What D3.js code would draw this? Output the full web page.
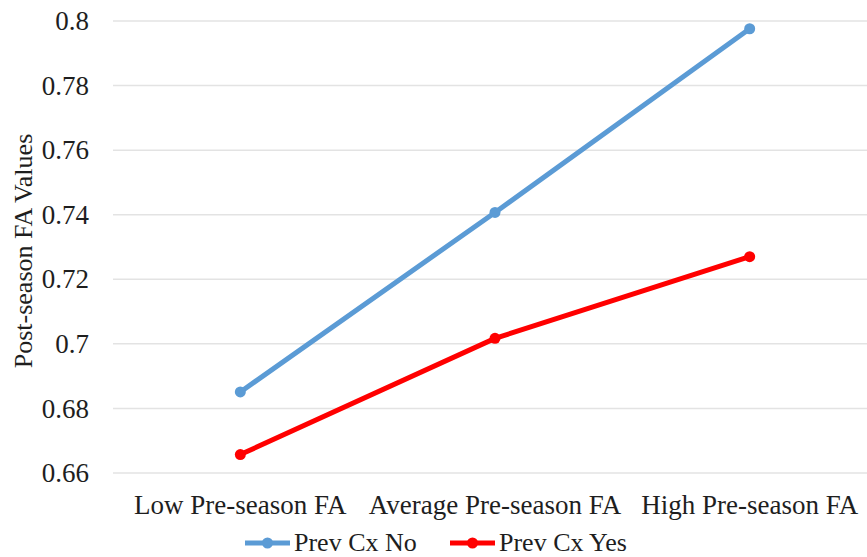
<!DOCTYPE html>
<html><head><meta charset="utf-8">
<script src="https://cdn.jsdelivr.net/npm/d3@7"></script>
</head><body style="margin:0;background:#fff">
<svg id="c" width="867" height="557" font-family="Liberation Serif" style="display:block"></svg>
<script>
const categories = ["Low Pre-season FA", "Average Pre-season FA", "High Pre-season FA"];
const seriesNames = ["Prev Cx No", "Prev Cx Yes"];
const prevCxNo = [0.6851, 0.7407, 0.7976];
const prevCxYes = [0.6657, 0.7017, 0.7270];
const yTicks = [0.66, 0.68, 0.7, 0.72, 0.74, 0.76, 0.78, 0.8];
const colors = ["#5b9bd5", "#ff0000"];

(function () {
const FONT = "Liberation Serif";
const TXT = "#1e1e1e";
const svg = d3.select("#c");
const pLeft = 113, pRight = 877, pTop = 21, pBottom = 473;
const x = d3.scaleBand().domain(categories).range([pLeft, pRight]);
const y = d3.scaleLinear().domain([0.66, 0.8]).range([pBottom, pTop]);

// gridlines
svg.append("g").selectAll("line").data(yTicks).join("line")
  .attr("x1", pLeft).attr("x2", pRight)
  .attr("y1", d => y(d)).attr("y2", d => y(d))
  .attr("stroke", "#e3e3e3").attr("stroke-width", 1.5);

// y axis labels
const yAxis = d3.axisLeft(y).tickValues(yTicks).tickFormat(d => String(+d.toFixed(2))).tickSize(0).tickPadding(0);
const ga = svg.append("g").attr("transform", `translate(89,0)`).call(yAxis);
ga.select(".domain").remove();
ga.attr("font-family", FONT);
ga.selectAll("text").attr("font-family", FONT).attr("font-size", 27).attr("fill", TXT);

// x axis labels
const xAxis = d3.axisBottom(x).tickSize(0).tickPadding(0);
const gx = svg.append("g").attr("transform", `translate(0,${pBottom})`).call(xAxis);
gx.select(".domain").remove();
gx.attr("font-family", FONT);
gx.selectAll("text").attr("font-family", FONT).attr("font-size", 27).attr("fill", TXT)
  .attr("dy", null).attr("y", 41);

// y title
svg.append("text").attr("transform", "translate(32,251) rotate(-90)")
  .attr("font-family", FONT).attr("fill", TXT)
  .attr("text-anchor", "middle").attr("font-size", 26).text("Post-season FA Values");

const series = [prevCxNo, prevCxYes];
const line = d3.line().x((d, i) => x(categories[i]) + x.bandwidth() / 2).y(d => y(d));
series.forEach((s, k) => {
  svg.append("path").datum(s).attr("d", line).attr("fill", "none")
    .attr("stroke", colors[k]).attr("stroke-width", 5).attr("stroke-linecap", "round");
  svg.append("g").selectAll("circle").data(s).join("circle")
    .attr("cx", (d, i) => x(categories[i]) + x.bandwidth() / 2).attr("cy", d => y(d))
    .attr("r", 5.5).attr("fill", colors[k]);
});

// legend
const legendX = [245, 450];
seriesNames.forEach((n, k) => {
  const g = svg.append("g").attr("transform", `translate(${legendX[k]},543)`);
  g.append("line").attr("x1", 0).attr("x2", 45).attr("stroke", colors[k]).attr("stroke-width", 5);
  g.append("circle").attr("cx", 22.5).attr("r", 5.5).attr("fill", colors[k]);
  g.append("text").attr("x", 49).attr("y", 8).attr("font-family", FONT).attr("fill", TXT)
    .attr("font-size", 26).text(n);
});
})();
</script></body></html>
